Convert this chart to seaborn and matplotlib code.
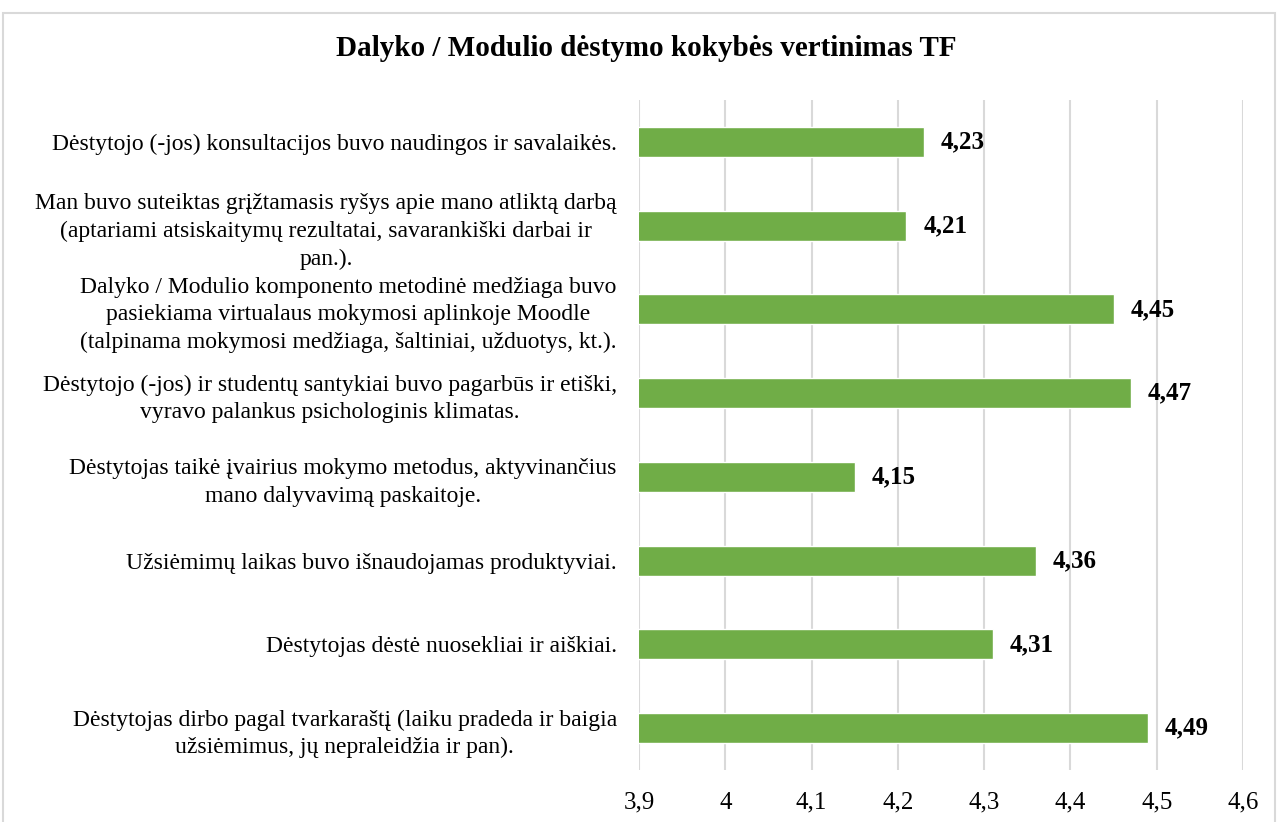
import matplotlib
matplotlib.use("Agg")
import matplotlib.pyplot as plt
from matplotlib.patches import Rectangle
from matplotlib.ticker import FixedLocator, FuncFormatter
import pandas as pd
import seaborn as sns

title = "Dalyko / Modulio dėstymo kokybės vertinimas TF"
questions = [
    "Dėstytojo (-jos) konsultacijos buvo naudingos ir savalaikės.",
    "Man buvo suteiktas grįžtamasis ryšys apie mano atliktą darbą\n"
    "(aptariami atsiskaitymų rezultatai, savarankiški darbai ir\npan.).",
    "Dalyko / Modulio komponento metodinė medžiaga buvo\n"
    "pasiekiama virtualaus mokymosi aplinkoje Moodle\n"
    "(talpinama mokymosi medžiaga, šaltiniai, užduotys, kt.).",
    "Dėstytojo (-jos) ir studentų santykiai buvo pagarbūs ir etiški,\n"
    "vyravo palankus psichologinis klimatas.",
    "Dėstytojas taikė įvairius mokymo metodus, aktyvinančius\n"
    "mano dalyvavimą paskaitoje.",
    "Užsiėmimų laikas buvo išnaudojamas produktyviai.",
    "Dėstytojas dėstė nuosekliai ir aiškiai.",
    "Dėstytojas dirbo pagal tvarkaraštį (laiku pradeda ir baigia\n"
    "užsiėmimus, jų nepraleidžia ir pan).",
]
scores = [4.23, 4.21, 4.45, 4.47, 4.15, 4.36, 4.31, 4.49]
x_ticks = [3.9, 4.0, 4.1, 4.2, 4.3, 4.4, 4.5, 4.6]

df = pd.DataFrame({"question": questions, "score": scores})

sns.set_theme(style="white")
plt.rcParams["font.family"] = ["Liberation Serif", "DejaVu Serif"]

fig = plt.figure(figsize=(12.78, 8.22), dpi=100)
ax = fig.add_axes([639 / 1278, 52 / 822, (1243 - 639) / 1278, (770 - 100) / 822])

sns.barplot(data=df, x="score", y="question", orient="h", color="#70AD47",
            saturation=1, width=0.36, ax=ax)

ax.set_xlim(3.9, 4.6)
ax.xaxis.set_major_locator(FixedLocator(x_ticks))
ax.xaxis.set_major_formatter(FuncFormatter(lambda v, p: f"{round(v, 2):g}".replace(".", ",")))
ax.grid(axis="x", color="#d9d9d9", linewidth=1.5)
ax.set_axisbelow(True)
for s in ax.spines.values():
    s.set_visible(False)
ax.set_xlabel("")
ax.set_ylabel("")
ax.tick_params(axis="x", length=0, pad=28, labelsize=18, colors="#000000")
ax.tick_params(axis="y", length=0, pad=16, labelsize=17, colors="#000000")
for lab in ax.get_xticklabels():
    lab.set_verticalalignment("baseline")
for lab in ax.get_yticklabels():
    lab.set_multialignment("center")
    lab.set_linespacing(1.4)

for i, v in enumerate(scores):
    ax.annotate(f"{v:.2f}".replace(".", ","), (v, i), xytext=(12, 0),
                textcoords="offset points", va="center", ha="left",
                fontsize=18, fontweight="bold", color="#000000")

fig.text(646 / 1278, 1 - 48 / 822, title, ha="center", va="center",
         fontsize=21, fontweight="bold", color="#000000")

fig.patches.append(Rectangle((3 / 1278, -0.05), 1272 / 1278, 1.05 - 13 / 822,
                             transform=fig.transFigure, fill=False,
                             edgecolor="#d9d9d9", linewidth=1.5))

fig.savefig("out.png", dpi=100)
